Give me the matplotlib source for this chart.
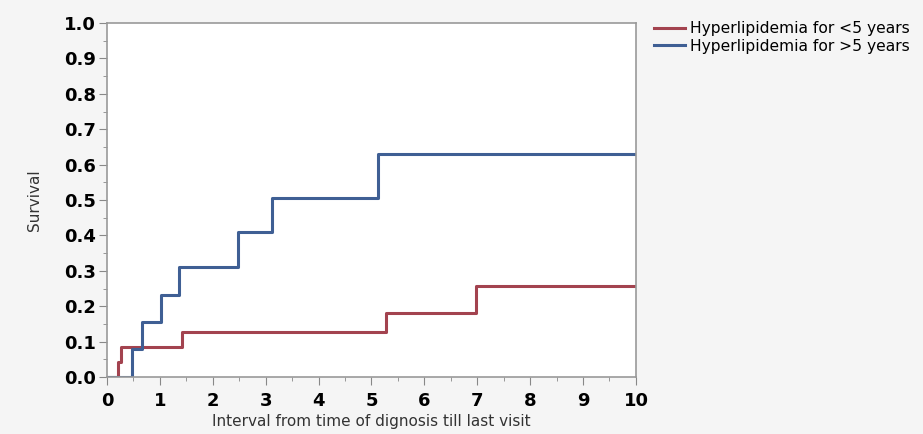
import matplotlib
matplotlib.use("Agg")
from matplotlib import pyplot
from matplotlib.ticker import MultipleLocator

# Kaplan-Meier style step curves
lt5_time = [0, 0.21, 0.265, 1.41, 5.27, 6.97, 10]
lt5_surv = [0, 0.043, 0.086, 0.127, 0.181, 0.258, 0.258]

gt5_time = [0, 0.47, 0.655, 1.03, 1.37, 2.48, 3.12, 5.12, 10]
gt5_surv = [0, 0.078, 0.156, 0.233, 0.31, 0.41, 0.506, 0.63, 0.63]

labels = ['Hyperlipidemia for <5 years', 'Hyperlipidemia for >5 years']
colors = ['#a3434f', '#3f5f94']

figure = pyplot.figure(figsize=(9.23, 4.34), dpi=100)
figure.patch.set_facecolor('#f5f5f5')
ax = figure.add_axes([0.1159, 0.1313, 0.5731, 0.8157])
ax.set_facecolor('white')

ax.step(lt5_time, lt5_surv, where='post', color=colors[0], lw=2.2, label=labels[0])
ax.step(gt5_time, gt5_surv, where='post', color=colors[1], lw=2.2, label=labels[1])

ax.set_xlim(0, 10)
ax.set_ylim(0, 1.0)
ax.xaxis.set_major_locator(MultipleLocator(1))
ax.xaxis.set_minor_locator(MultipleLocator(0.5))
ax.yaxis.set_minor_locator(MultipleLocator(0.05))
ax.set_yticks([v / 10 for v in range(11)])
ax.set_yticklabels(['%.1f' % (v / 10) for v in range(11)])

ax.tick_params(which='major', direction='out', length=6, color='#888888',
               labelsize=13, labelcolor='black', pad=2)
ax.tick_params(axis='x', which='major', pad=5)
ax.tick_params(which='minor', direction='out', length=3, color='#888888')
for lab in ax.get_xticklabels() + ax.get_yticklabels():
    lab.set_fontweight('heavy')

for side in ['top', 'right', 'left', 'bottom']:
    ax.spines[side].set_color('#999999')
    ax.spines[side].set_linewidth(1.2)

ax.set_xlabel('Interval from time of dignosis till last visit', fontsize=11, color='#333333', labelpad=3)
ax.set_ylabel('Survival', fontsize=11, color='#333333', labelpad=16)

figure.legend(loc='upper left', bbox_to_anchor=(0.702, 0.965), frameon=False,
              fontsize=11.2, handlelength=2.0, handletextpad=0.3, labelspacing=0.15,
              borderaxespad=0)

figure.savefig('out.png', dpi=100, facecolor=figure.get_facecolor())
